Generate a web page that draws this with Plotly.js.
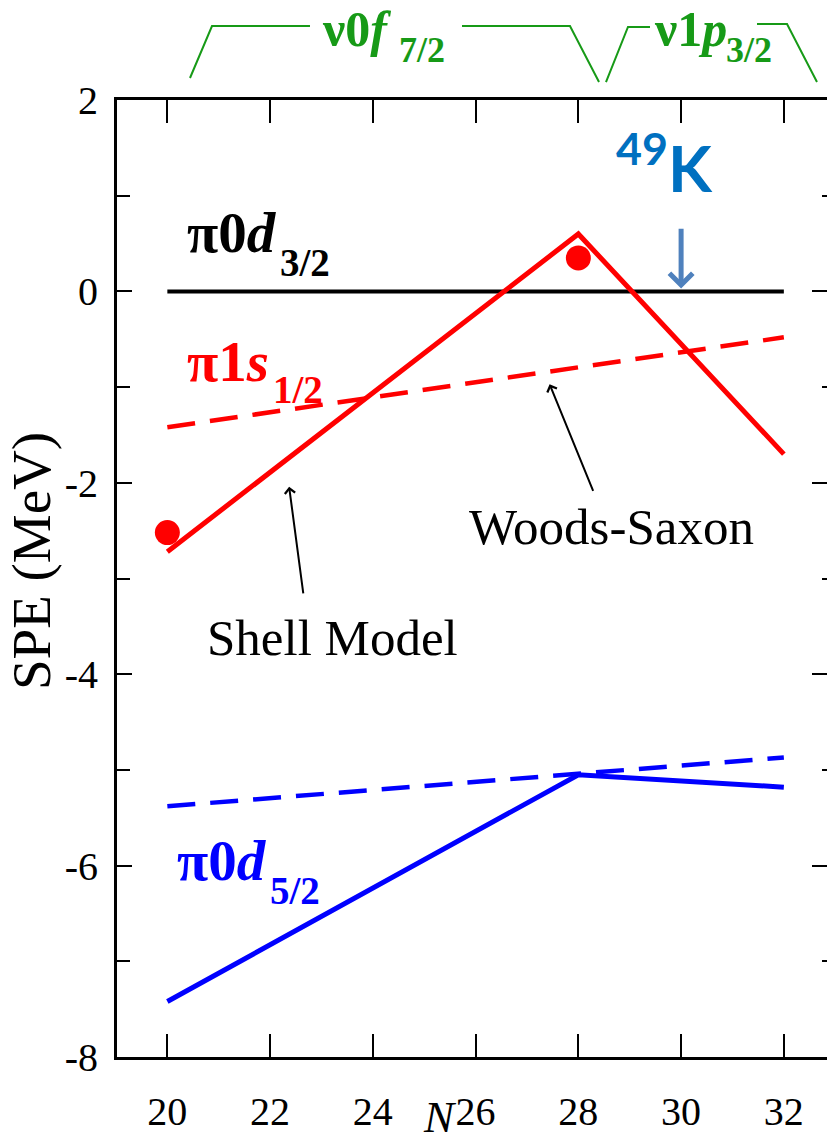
<!DOCTYPE html>
<html>
<head>
<meta charset="utf-8">
<script src="https://cdn.plot.ly/plotly-3.0.1.min.js"></script>
<style>
html,body{margin:0;padding:0;background:#fff;}
#chart .xtick text, #chart .ytick text { font-family: "Liberation Serif", "Times New Roman", serif !important; }
</style>
</head>
<body>
<div id="chart" style="width:827px;height:1145px;"></div>
<script>
// ---------- data ----------
const xTickVals = [20, 22, 24, 26, 28, 30, 32];
const xTickText = ['20', '22', '24', '26', '28', '30', '32'];
const yTickVals = [-8, -6, -4, -2, 0, 2];
const yTickText = ['-8', '-6', '-4', '-2', '0', '2'];
const yMinorVals = [-7, -5, -3, -1, 1];

// pi 0d3/2 (reference level)
const d32_N = [20, 32];
const d32_E = [0, 0];
// pi 1s1/2 Woods-Saxon (dashed)
const s12ws_N = [20, 32];
const s12ws_E = [-1.42, -0.48];
// pi 1s1/2 Shell Model (solid)
const s12sm_N = [20, 28, 32];
const s12sm_E = [-2.72, 0.60, -1.70];
// pi 1s1/2 experimental points
const s12exp_N = [20, 28];
const s12exp_E = [-2.52, 0.35];
// pi 0d5/2 Woods-Saxon (dashed)
const d52ws_N = [20, 32];
const d52ws_E = [-5.38, -4.87];
// pi 0d5/2 Shell Model (solid)
const d52sm_N = [20, 28, 32];
const d52sm_E = [-7.42, -5.05, -5.18];

// ---------- geometry helpers ----------
const W = 827, H = 1145;
const M = {l: 117, r: 0, t: 100, b: 88};
const PW = W - M.l - M.r, PH = H - M.t - M.b;
const px = x => (x - M.l) / PW;          // pixel x -> paper x
const py = y => (H - M.b - y) / PH;      // pixel y -> paper y

const RED = '#ff0000', BLUE = '#0000ff', GREEN = '#179a17';
const SERIF = 'Liberation Serif';

const traces = [
  {x: d32_N, y: d32_E, mode: 'lines', line: {color: '#000', width: 4}, hoverinfo: 'skip'},
  {x: s12ws_N, y: s12ws_E, mode: 'lines', line: {color: RED, width: 4.5, dash: '28px,15px'}, hoverinfo: 'skip'},
  {x: s12sm_N, y: s12sm_E, mode: 'lines', line: {color: RED, width: 5}, hoverinfo: 'skip'},
  {x: s12exp_N, y: s12exp_E, mode: 'markers', marker: {color: RED, size: 25}, hoverinfo: 'skip'},
  {x: d52ws_N, y: d52ws_E, mode: 'lines', line: {color: BLUE, width: 4.5, dash: '28px,15px'}, hoverinfo: 'skip'},
  {x: d52sm_N, y: d52sm_E, mode: 'lines', line: {color: BLUE, width: 5}, hoverinfo: 'skip'},
  {x: [], y: [], yaxis: 'y2', mode: 'lines', hoverinfo: 'skip'}
];

function seg(points) {
  return points.map((p, i) => (i ? 'L' : 'M') + px(p[0]).toFixed(4) + ',' + py(p[1]).toFixed(4)).join(' ');
}
const bracketLine = {color: GREEN, width: 2};
const shapes = [
  {type: 'path', xref: 'paper', yref: 'paper', path: seg([[190, 78], [212, 26], [310, 26]]), line: bracketLine},
  {type: 'path', xref: 'paper', yref: 'paper', path: seg([[462, 26], [570, 26], [599, 82]]), line: bracketLine},
  {type: 'path', xref: 'paper', yref: 'paper', path: seg([[606, 82], [628, 27], [650, 27]]), line: bracketLine},
  {type: 'path', xref: 'paper', yref: 'paper', path: seg([[757, 24], [787, 24], [817, 82]]), line: bracketLine}
];

function arrow(xh, yh, xt, yt, color, width, size) {
  return {x: xh, y: yh, ax: xt, ay: yt, xref: 'x', yref: 'y', axref: 'x', ayref: 'y',
    text: '', showarrow: true, arrowhead: 4, arrowsize: size, arrowwidth: width, arrowcolor: color,
    standoff: 0, startstandoff: 0};
}
function label(text, xpx, ypx, font, xanchor, angle) {
  return {text: text, xref: 'paper', yref: 'paper', x: px(xpx), y: py(ypx),
    xanchor: xanchor || 'center', yanchor: 'middle', showarrow: false, font: font,
    textangle: angle || 0};
}
const F = (size, color) => ({family: SERIF, size: size, color: color || '#000'});

const annotations = [
  // proton orbit labels (main part + lowered subscript)
  label('<b>π0<i>d</i></b>', 185, 232, F(57, '#000'), 'left'),
  label('<b>3/2</b>', 278, 262, F(39, '#000'), 'left'),
  label('<b>π1<i>s</i></b>', 185, 361, F(57, RED), 'left'),
  label('<b>1/2</b>', 271, 390, F(39, RED), 'left'),
  label('<b>π0<i>d</i></b>', 175, 860, F(57, BLUE), 'left'),
  label('<b>5/2</b>', 268, 890, F(39, BLUE), 'left'),
  // neutron orbit labels
  label('<b>ν0<i>f</i></b>', 320, 28.5, F(50, GREEN), 'left'),
  label('<b>7/2</b>', 397, 50, F(36, GREEN), 'left'),
  label('<b>ν1<i>p</i></b>', 652, 28.5, F(50, GREEN), 'left'),
  label('<b>3/2</b>', 724, 50, F(36, GREEN), 'left'),
  // model labels
  label('Woods-Saxon', 611, 527, F(51)),
  label('Shell Model', 332, 638, F(51)),
  label('<b><sup>49</sup>K</b>', 614, 164, {family: 'Lato', size: 64, color: '#0070C0'}, 'left'),
  // axis titles
  label('<i>N</i>', 440, 1117, F(45)),
  label('SPE (MeV)', 31, 561, F(55), 'center', -90),
  // arrows
  arrow(27.44, -0.97, 28.30, -2.10, '#000', 2, 1),
  arrow(22.37, -2.04, 22.65, -3.17, '#000', 2, 1),
  arrow(30, 0.03, 30, 0.67, '#4F81BD', 5, 0.9)
];

const layout = {
  width: W, height: H,
  margin: {l: M.l, r: M.r, t: M.t, b: M.b, pad: 0},
  paper_bgcolor: '#fff', plot_bgcolor: '#fff',
  font: {family: SERIF, color: '#000'},
  showlegend: false,
  xaxis: {
    range: [19.02, 32.84], tickmode: 'array', tickvals: xTickVals, ticktext: xTickText,
    ticks: 'inside', ticklen: 23, tickwidth: 2, tickcolor: '#000',
    showline: true, linewidth: 3, linecolor: '#000', mirror: 'ticks',
    showgrid: false, zeroline: false, ticklabelstandoff: 17,
    tickfont: {family: SERIF, size: 40, color: '#000'}
  },
  yaxis: {
    range: [-8, 2], tickmode: 'array', tickvals: yTickVals, ticktext: yTickText,
    ticks: 'inside', ticklen: 15, tickwidth: 2, tickcolor: '#000',
    minor: {tickmode: 'array', tickvals: yMinorVals, ticks: 'inside', ticklen: 13, tickwidth: 2, tickcolor: '#000', showgrid: false},
    showline: true, linewidth: 3, linecolor: '#000', mirror: false,
    showgrid: false, zeroline: false, ticklabelstandoff: 8,
    tickfont: {family: SERIF, size: 40, color: '#000'}
  },
  yaxis2: {
    overlaying: 'y', side: 'right', range: [-8, 2], tickmode: 'array', tickvals: yTickVals,
    showticklabels: false, ticks: 'inside', ticklen: 15, tickwidth: 2, tickcolor: '#000',
    minor: {tickmode: 'array', tickvals: yMinorVals, ticks: 'inside', ticklen: 5, tickwidth: 2, tickcolor: '#000', showgrid: false},
    showline: false, showgrid: false, zeroline: false
  },
  shapes: shapes,
  annotations: annotations
};

Plotly.newPlot('chart', traces, layout, {staticPlot: true, displayModeBar: false});
</script>
</body>
</html>
